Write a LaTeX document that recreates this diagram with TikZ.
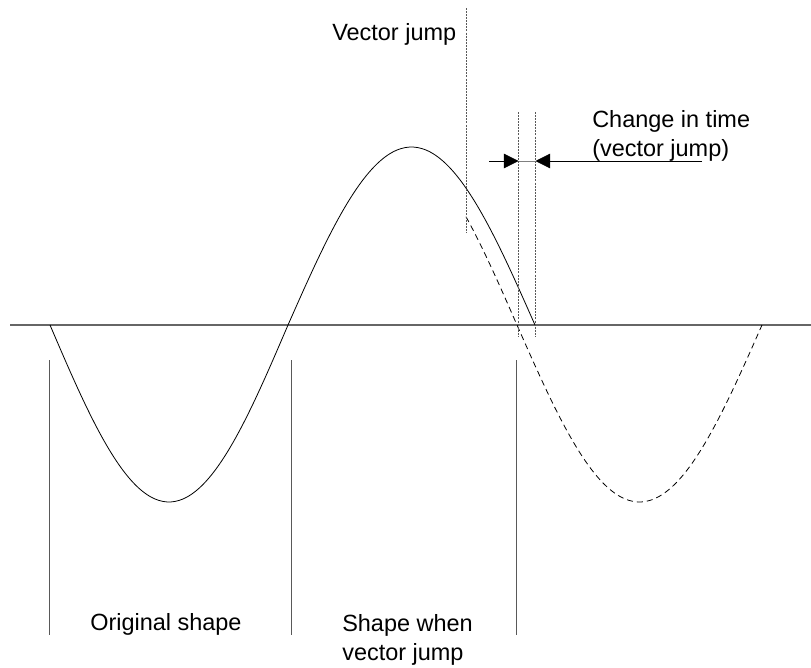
\documentclass[tikz,border=0pt]{standalone}
\usepackage{fontspec}
\setmainfont{Liberation Sans}
\usetikzlibrary{arrows.meta,positioning}

\begin{document}
\begin{tikzpicture}[x=0.75pt,y=-0.75pt,
  wave/.style={black,line width=0.6pt},
  shifted/.style={wave,dash pattern=on 4.5pt off 3pt},
  guide/.style={gray!70!black,line width=0.45pt,dash pattern=on 1.5pt off 0.8pt},
  divider/.style={gray!70!black,line width=0.7pt},
  lbl/.style={font=\fontsize{17.6}{21.75}\selectfont,inner sep=0pt,anchor=base west,align=left},
  tip/.style={-{Triangle[length=11pt,width=11pt]},black,line width=0.6pt}]
  \useasboundingbox (0,0) rectangle (811,668);
  % Axis
  \draw[gray!80!black,line width=0.9pt] (10,325) -- (811,325);
  % Original shape
  \draw[wave] plot[domain=50:288,samples=60,smooth] (\x,{325+177*sin((\x-50)/238*180)})
    -- plot[domain=288:535,samples=60,smooth] (\x,{325-178*sin((\x-288)/247*180)});
  % Shape after the jump
  \draw[shifted] plot[domain=466:517,samples=15,smooth] (\x,{325-178*sin((517-\x)/245*180)})
    -- plot[domain=517:762,samples=60,smooth] (\x,{325+177*sin((\x-517)/245*180)});
  % Guide lines
  \coordinate (jumptop) at (466,8);
  \coordinate (jumpbot) at (466,233);
  \coordinate (ttop) at (518.5,112);
  \coordinate (tbot) at (518.5,337);
  \coordinate (utop) at (535.5,112);
  \coordinate (ubot) at (535.5,337);
  \draw[guide] (jumptop) -- (jumpbot);
  \draw[guide] (ttop) -- (tbot);
  \draw[guide] (utop) -- (ubot);
  % Change in time arrows
  \coordinate (arrL) at (489,161);
  \coordinate (arrR) at (702,161);
  \draw[gray,line width=0.6pt] (arrL -| ttop) -- (arrR -| utop);
  \draw[tip] (arrL) -- (arrL -| ttop);
  \draw[tip] (arrR) -- (arrR -| utop);
  % Dividers
  \foreach \x in {49,291,516} {
    \draw[divider] (\x,360) -- (\x,635);
  }
  % Labels
  \node[lbl] (jumplbl) at (332,40) {Vector jump};
  \node[lbl] (dtlbl) at (592,156) {Change in time\\(vector jump)};
  \node[lbl] (origlbl) at (90,630) {Original shape};
  \node[lbl] (shiftlbl) at (342,660) {Shape when\\vector jump};
\end{tikzpicture}
\end{document}
